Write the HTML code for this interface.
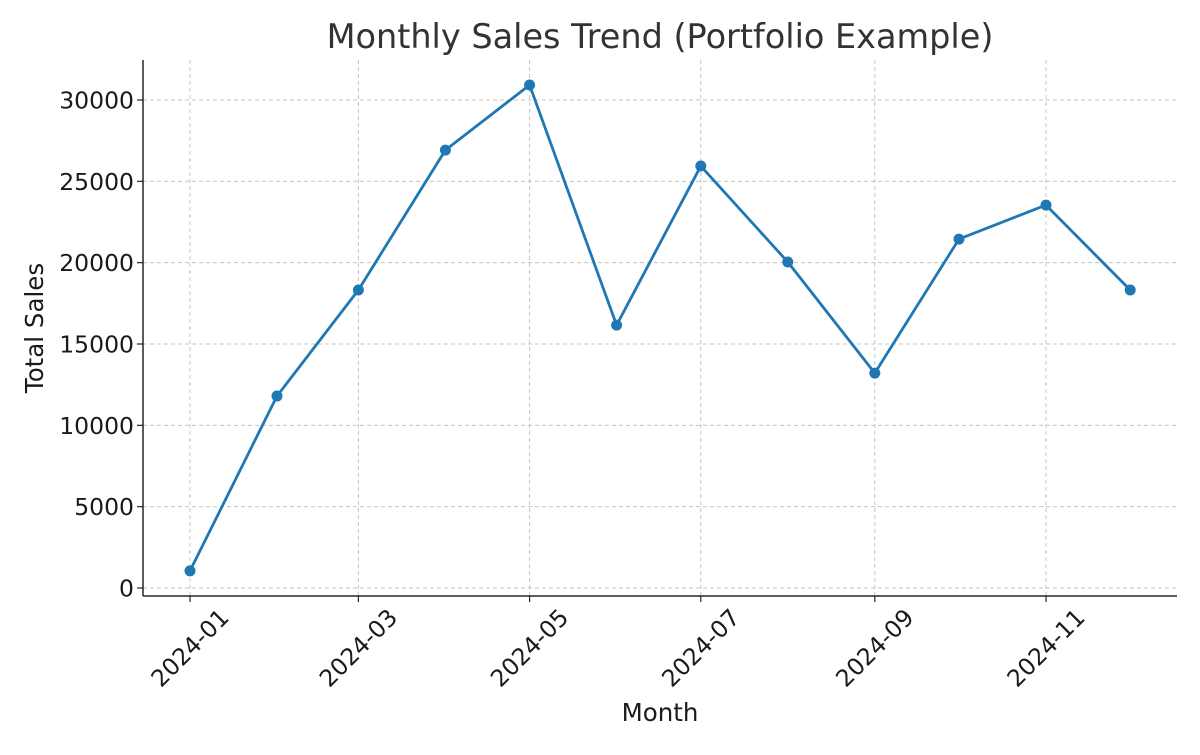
<!DOCTYPE html>
<html><head><meta charset="utf-8"><style>
body{margin:0;background:#fff;}
svg text{font-family:"DejaVu Sans","Liberation Sans",sans-serif;fill:#1a1a1a;}
</style></head><body>
<svg id="chart" width="1200" height="750" xmlns="http://www.w3.org/2000/svg">
<text x="660" y="48" text-anchor="middle" font-size="33.5" style="fill:#333">Monthly Sales Trend (Portfolio Example)</text>
<g id="grid"></g>
<g id="axes"></g>
<g id="series"></g>
<text x="660" y="721" text-anchor="middle" font-size="24.5">Month</text>
<text transform="translate(43,328) rotate(-90)" text-anchor="middle" font-size="24.5">Total Sales</text>
</svg>
<script>
const months = ["2024-01","2024-02","2024-03","2024-04","2024-05","2024-06","2024-07","2024-08","2024-09","2024-10","2024-11","2024-12"];
const dayOffsets = [0,31,60,91,121,152,182,213,244,274,305,335];
const sales = [1050,11800,18320,26920,30920,16160,25940,20040,13210,21450,23540,18320];
const yTicks = [0,5000,10000,15000,20000,25000,30000];
const xTickIdx = [0,2,4,6,8,10];

const NS="http://www.w3.org/2000/svg";
const xs=d=>190+d*(1046-190)/305;
const ys=v=>588-v*(588-100)/30000;
function mk(tag,attrs,parent){const e=document.createElementNS(NS,tag);for(const k in attrs)e.setAttribute(k,attrs[k]);parent.appendChild(e);return e;}
const grid=document.getElementById('grid'),axes=document.getElementById('axes'),series=document.getElementById('series');
const L=143,R=1177,T=60,B=596;
yTicks.forEach(v=>{
  const y=ys(v);
  const g=mk('line',{x1:L,x2:R,y1:y,y2:y,stroke:'#c4c4c4','stroke-width':1,'stroke-dasharray':'4,3'},grid);
  
  
  const tk=mk('line',{x1:L-6,x2:L,y1:y,y2:y,stroke:'#262626','stroke-width':1.2},axes);
  
  
  const t=mk('text',{x:L-9,y:y+8.5,'text-anchor':'end','font-size':23.5},axes);
  t.textContent=v;
  
  
});
xTickIdx.forEach(i=>{
  const x=xs(dayOffsets[i]);
  const g=mk('line',{x1:x,x2:x,y1:T,y2:B,stroke:'#c4c4c4','stroke-width':1,'stroke-dasharray':'4,3'},grid);
  
  
  const tk=mk('line',{x1:x,x2:x,y1:B,y2:B+6,stroke:'#262626','stroke-width':1.2},axes);
  
  
  const t=mk('text',{transform:`translate(${x},${B+52}) rotate(-45)`,'text-anchor':'middle','dominant-baseline':'central','font-size':23.5},axes);
  t.textContent=months[i];
  
  
});
const ly=mk('line',{x1:L,x2:L,y1:T,y2:B,stroke:'#262626','stroke-width':1.5},axes);


const lx=mk('line',{x1:L,x2:R,y1:B,y2:B,stroke:'#262626','stroke-width':1.5},axes);


const pts=sales.map((v,i)=>xs(dayOffsets[i])+','+ys(v)).join(' ');
const pl=mk('polyline',{points:pts,fill:'none',stroke:'#1f77b4','stroke-width':2.8,'stroke-linejoin':'round'},series);


sales.forEach((v,i)=>{
  const c=mk('circle',{cx:xs(dayOffsets[i]),cy:ys(v),r:5.5,fill:'#1f77b4'},series);
  
  
});
</script>
</body></html>
